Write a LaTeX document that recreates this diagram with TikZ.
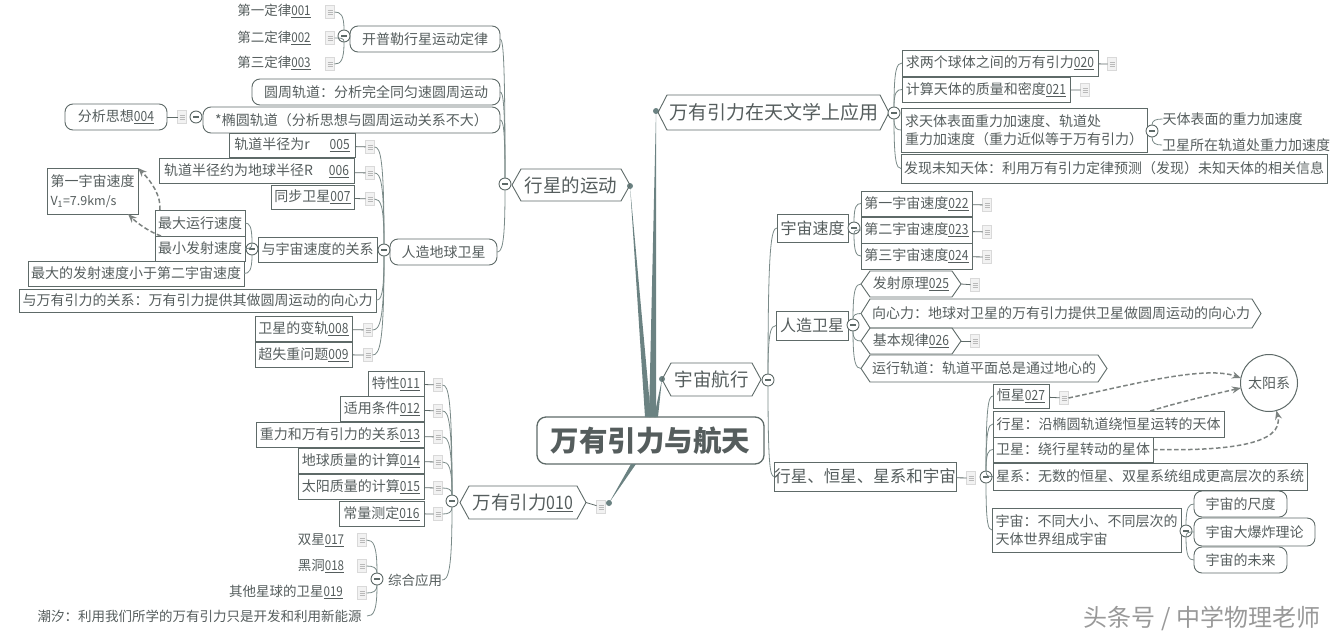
\documentclass[tikz,border=0pt]{standalone}
\usepackage{fontspec}
\usepackage{graphicx}
\setmainfont{Noto Sans CJK SC}
\usetikzlibrary{calc,arrows.meta}
\definecolor{ink}{HTML}{555D5D}
\definecolor{edge}{HTML}{5E6A68}
\definecolor{trunk}{HTML}{6B8282}
\definecolor{linkc}{HTML}{7A8A88}
\definecolor{dashc}{HTML}{7C8280}
\newcommand{\nm}[1]{\underline{\scalebox{.86}[1]{#1}}}
\newcommand{\bx}[7]{\node[#2,minimum width={(#5)-(#3)},minimum height={(#6)-(#4)}] (#1) at ({((#3)+(#5))/2},{((#4)+(#6))/2}) {#7};}
\newcommand{\hx}[7]{\node[#2,minimum width={(#5)-(#3)},minimum height={(#6)-(#4)}] (#1) at ({((#3)+(#5))/2},{((#4)+(#6))/2}) {#7};
 \draw[boxline] (#1.west) -- ([xshift=9pt]#1.north west) -- ([xshift=-9pt]#1.north east) -- (#1.east) -- ([xshift=-9pt]#1.south east) -- ([xshift=9pt]#1.south west) -- cycle;}
\newcommand{\lnk}[2]{\draw[link] (#1) .. controls ($(#1)!0.88!(#1|-#2)$) and ($(#1|-#2)!0.35!(#2)$) .. (#2);}
\newcommand{\mn}[3]{\node[minusc] (#1) at (#2,#3) {};}
\newcommand{\ic}[3]{\node[docicon] (#1) at (#2,#3) {};}
\tikzset{
  x=1pt,y=-1pt,
  every node/.style={text=ink,inner sep=0pt,outer sep=0pt,font=\fontsize{14}{18}\selectfont},
  boxline/.style={draw=edge,line width=.9pt},
  sq/.style={draw=edge,line width=.9pt},
  rnd/.style={draw=edge,line width=.9pt,rounded corners=8pt},
  bare/.style={},
  fa/.style={font=\fontsize{13.5}{18}\selectfont},
  fb/.style={font=\fontsize{16}{20}\selectfont},
  fc/.style={font=\fontsize{18.5}{22}\selectfont},
  fd/.style={font=\fontsize{19}{25}\selectfont},
  link/.style={draw=linkc,line width=.8pt},
  stub/.style={draw=edge,line width=.8pt},
  dasharrow/.style={draw=dashc,line width=1.5pt,dash pattern=on 4.5pt off 2.5pt,-{Stealth[length=9pt,width=7pt]}},
  minusc/.style={circle,draw=edge,line width=.9pt,fill=white,minimum size=12pt,
    path picture={\draw[edge,line width=1.2pt] ([xshift=-3pt]path picture bounding box.center) -- ([xshift=3pt]path picture bounding box.center);}},
  docicon/.style={rectangle,draw=gray!30,line width=.6pt,fill=gray!10,minimum width=9pt,minimum height=13pt,
    path picture={\draw[gray!55,line width=.5pt]
      ([xshift=-2.5pt,yshift=2pt]path picture bounding box.center) -- ([xshift=2.5pt,yshift=2pt]path picture bounding box.center)
      ([xshift=-2.5pt]path picture bounding box.center) -- ([xshift=2.5pt]path picture bounding box.center)
      ([xshift=-2.5pt,yshift=-2pt]path picture bounding box.center) -- ([xshift=2.5pt,yshift=-2pt]path picture bounding box.center);}},
  dotn/.style={circle,fill=trunk,minimum size=6pt},
}
\begin{document}
\begin{tikzpicture}
\useasboundingbox (0,0) rectangle (1337,640);
% root and main branches
\bx{root}{rnd,rounded corners=9pt,line width=1.3pt,font=\fontsize{28.5}{34}\bfseries\selectfont}{537}{417}{764}{464}{万有引力与航天}
\node[dotn] (d1) at (630,186) {};
\node[dotn] (d2) at (656,111) {};
\node[dotn] (d3) at (662,379) {};
\node[dotn] (d4) at (609,503) {};
\coordinate (r1a) at (645,417); \coordinate (r1b) at (651,417);
\coordinate (r2a) at (649,417); \coordinate (r2b) at (656,417);
\coordinate (r3a) at (654,417); \coordinate (r3b) at (658,417);
\coordinate (r4a) at (631,464); \coordinate (r4b) at (636,464);
\fill[trunk] (d1.center) -- (r1a) -- (r1b) -- cycle;
\fill[trunk] (d2.center) -- (r2a) -- (r2b) -- cycle;
\fill[trunk] (d3.center) -- (r3a) -- (r3b) -- cycle;
\fill[trunk] (d4.center) -- (r4a) -- (r4b) -- cycle;
% 行星的运动
\hx{xx}{fc}{512}{169}{630}{201}{行星的运动}
\mn{mxx}{505}{184}
\bx{kp}{rnd}{350}{26}{500}{52}{开普勒行星运动定律}
\mn{mkp}{344}{36}
\bx{d01}{fa,bare}{236}{2}{312}{20}{第一定律\nm{001}}
\bx{d02}{fa,bare}{236}{29}{312}{47}{第二定律\nm{002}}
\bx{d03}{fa,bare}{236}{54}{312}{72}{第三定律\nm{003}}
\ic{i01}{330}{12}\ic{i02}{330}{38}\ic{i03}{330}{64}
\lnk{mkp}{i01.east}\lnk{mkp}{i02.east}\lnk{mkp}{i03.east}
\bx{yz}{rnd}{252}{79}{500}{105}{圆周轨道：分析完全同匀速圆周运动}
\bx{ty}{rnd}{203}{107}{500}{133}{*椭圆轨道（分析思想与圆周运动关系不大）}
\mn{mty}{196}{117}
\ic{i04}{182}{117}
\bx{fx}{rnd}{65}{104}{167}{130}{分析思想\nm{004}}
\draw[stub] (fx) -- (i04);
\bx{b05}{sq}{229}{133}{355}{157}{轨道半径为r\hspace{20pt}\nm{005}}
\bx{b06}{sq}{159}{158}{354}{183}{轨道半径约为地球半径R\hspace{16pt}\nm{006}}
\bx{b07}{sq}{271}{185}{354}{209}{同步卫星\nm{007}}
\ic{i05}{370}{147}\ic{i06}{370}{173}\ic{i07}{370}{199}
\draw[stub] (b05) -- (i05); \draw[stub] (b06) -- (i06); \draw[stub] (b07) -- (i07);
\bx{yz1}{sq,align=left}{47}{168}{138}{214}{第一宇宙速度\\[1pt]{\fontsize{12.5}{14}\selectfont V\textsubscript{1}=7.9km/s}}
\bx{zd}{sq}{155}{210}{245}{236}{最大运行速度}
\bx{zx}{sq}{155}{236}{245}{261}{最小发射速度}
\bx{zf}{sq}{28}{261}{244}{286}{最大的发射速度小于第二宇宙速度}
\mn{myz}{252}{249}
\bx{yg}{sq}{258}{237}{377}{262}{与宇宙速度的关系}
\mn{mrz}{384}{250}
\bx{rz}{rnd}{390}{239}{497}{265}{人造地球卫星}
\bx{wg}{sq}{19}{289}{376}{312}{与万有引力的关系：万有引力提供其做圆周运动的向心力}
\bx{b08}{sq}{255}{316}{352}{341}{卫星的变轨\nm{008}}
\bx{b09}{sq}{255}{342}{352}{367}{超失重问题\nm{009}}
\ic{i08}{368}{330}\ic{i09}{368}{355}
\draw[stub] (b08) -- (i08); \draw[stub] (b09) -- (i09);
\lnk{mxx}{kp.east}\lnk{mxx}{yz.east}\lnk{mxx}{ty.east}\lnk{mxx}{rz.east}
\lnk{mrz}{i05.east}\lnk{mrz}{i06.east}\lnk{mrz}{i07.east}
\lnk{mrz}{wg.east}\lnk{mrz}{i08.east}\lnk{mrz}{i09.east}
\lnk{myz}{zd.east}\lnk{myz}{zx.east}\lnk{myz}{zf.east}
\draw[dasharrow] ([xshift=5pt]zd.north west) .. controls (161,196) and (152,182) .. (yz1.north east);
\draw[dasharrow] ([xshift=6pt]zx.north west) .. controls (150,232) and (138,224) .. ($(yz1.south west)!0.89!(yz1.south east)$);
% 万有引力
\hx{wy}{fc}{460}{486}{586}{519}{万有引力\nm{010}}
\mn{mwy}{452}{501}
\ic{i10}{601}{507}
\draw[stub] (wy.east) -- (i10);
\bx{b11}{sq}{368}{371}{424}{396}{特性\nm{011}}
\bx{b12}{sq}{340}{396}{424}{421}{适用条件\nm{012}}
\bx{b13}{sq}{256}{422}{424}{447}{重力和万有引力的关系\nm{013}}
\bx{b14}{sq}{298}{448}{424}{473}{地球质量的计算\nm{014}}
\bx{b15}{sq}{298}{474}{424}{499}{太阳质量的计算\nm{015}}
\bx{b16}{sq}{339}{501}{424}{526}{常量测定\nm{016}}
\ic{i11}{438}{385}\ic{i12}{438}{411}\ic{i13}{438}{437}\ic{i14}{438}{462}\ic{i15}{438}{488}\ic{i16}{438}{514}
\draw[stub] (b11) -- (i11); \draw[stub] (b12) -- (i12); \draw[stub] (b13) -- (i13);
\draw[stub] (b14) -- (i14); \draw[stub] (b15) -- (i15); \draw[stub] (b16) -- (i16);
\lnk{mwy}{i11.east}\lnk{mwy}{i12.east}\lnk{mwy}{i13.east}\lnk{mwy}{i14.east}\lnk{mwy}{i15.east}\lnk{mwy}{i16.east}
\bx{zh}{fa,bare}{388}{571}{442}{589}{综合应用}
\lnk{mwy}{zh.east}
\mn{mzh}{377}{579}
\bx{b17}{fa,bare}{297}{531}{345}{549}{双星\nm{017}}
\bx{b18}{fa,bare}{297}{557}{345}{575}{黑洞\nm{018}}
\bx{b19}{fa,bare}{227}{583}{345}{601}{其他星球的卫星\nm{019}}
\bx{cx}{fa,bare}{32}{607}{367}{625}{潮汐：利用我们所学的万有引力只是开发和利用新能源}
\ic{i17}{362}{540}\ic{i18}{362}{566}\ic{i19}{362}{593}
\lnk{mzh}{i17.east}\lnk{mzh}{i18.east}\lnk{mzh}{i19.east}\lnk{mzh}{cx.east}
% 万有引力在天文学上应用
\hx{tw}{fd}{658}{95}{889}{130}{万有引力在天文学上应用}
\mn{mtw}{894}{113}
\bx{b20}{sq}{902}{50}{1098}{76}{求两个球体之间的万有引力\nm{020}}
\bx{b21}{sq}{902}{77}{1070}{102}{计算天体的质量和密度\nm{021}}
\ic{i20}{1112}{64}\ic{i21}{1085}{90}
\draw[stub] (b20) -- (i20); \draw[stub] (b21) -- (i21);
\bx{qt}{sq,align=left}{901}{108}{1147}{152}{求天体表面重力加速度、轨道处\\重力加速度（重力近似等于万有引力）}
\mn{mqt}{1152}{131}
\bx{tb}{bare}{1163}{110}{1302}{128}{天体表面的重力加速度}
\bx{wx}{bare}{1163}{136}{1329}{154}{卫星所在轨道处重力加速度}
\lnk{mqt}{tb.west}\lnk{mqt}{wx.west}
\bx{fw}{sq}{901}{154}{1327}{183}{发现未知天体：利用万有引力定律预测（发现）未知天体的相关信息}
\lnk{mtw}{b20.west}\lnk{mtw}{b21.west}\lnk{mtw}{qt.west}\lnk{mtw}{fw.west}
% 宇宙航行
\hx{hx}{fc}{662}{363}{761}{396}{宇宙航行}
\mn{mhx}{768}{380}
\bx{sd}{sq,fb}{777}{214}{848}{242}{宇宙速度}
\mn{msd}{854}{228}
\bx{b22}{sq}{861}{191}{972}{216}{第一宇宙速度\nm{022}}
\bx{b23}{sq}{861}{217}{972}{243}{第二宇宙速度\nm{023}}
\bx{b24}{sq}{861}{243}{972}{269}{第三宇宙速度\nm{024}}
\ic{i22}{987}{205}\ic{i23}{987}{232}\ic{i24}{987}{257}
\draw[stub] (b22) -- (i22); \draw[stub] (b23) -- (i23); \draw[stub] (b24) -- (i24);
\lnk{msd}{b22.west}\lnk{msd}{b23.west}\lnk{msd}{b24.west}
\bx{rw}{sq,fb}{776}{311}{848}{340}{人造卫星}
\mn{mrw}{853}{325}
\hx{b25}{bare}{861}{271}{961}{297}{发射原理\nm{025}}
\hx{xl}{bare}{861}{299}{1261}{328}{向心力：地球对卫星的万有引力提供卫星做圆周运动的向心力}
\hx{b26}{bare}{861}{328}{961}{354}{基本规律\nm{026}}
\hx{yx}{bare}{861}{355}{1107}{382}{运行轨道：轨道平面总是通过地心的}
\ic{i25}{975}{285}\ic{i26}{975}{341}
\draw[stub] (b25.east) -- (i25); \draw[stub] (b26.east) -- (i26);
\lnk{mrw}{b25.west}\lnk{mrw}{xl.west}\lnk{mrw}{b26.west}\lnk{mrw}{yx.west}
\bx{xh}{sq,font=\fontsize{16.5}{20}\selectfont}{774}{462}{956}{491}{行星、恒星、星系和宇宙}
\ic{i28}{971}{478}
\draw[stub] (xh) -- (i28);
\mn{mxh}{986}{477}
\lnk{mhx}{sd.west}\lnk{mhx}{rw.west}\lnk{mhx}{xh.west}
\bx{b27}{sq}{993}{384}{1049}{408}{恒星\nm{027}}
\ic{i27}{1064}{398}
\draw[stub] (b27) -- (i27);
\bx{xing}{sq}{993}{411}{1224}{437}{行星：沿椭圆轨道绕恒星运转的天体}
\bx{wei}{sq}{993}{437}{1153}{462}{卫星：绕行星转动的星体}
\bx{xi}{sq}{993}{463}{1307}{490}{星系：无数的恒星、双星系统组成更高层次的系统}
\bx{yu}{sq,align=left}{992}{508}{1181}{552}{宇宙：不同大小、不同层次的\\天体世界组成宇宙}
\lnk{mxh}{b27.west}\lnk{mxh}{xing.west}\lnk{mxh}{wei.west}\lnk{mxh}{xi.west}\lnk{mxh}{yu.west}
\mn{myu}{1186}{531}
\bx{c1}{rnd}{1194}{491}{1287}{517}{宇宙的尺度}
\bx{c2}{rnd}{1194}{518}{1315}{546}{宇宙大爆炸理论}
\bx{c3}{rnd}{1194}{547}{1287}{573}{宇宙的未来}
\lnk{myu}{c1.west}\lnk{myu}{c2.west}\lnk{myu}{c3.west}
\node[draw=edge,line width=1pt,circle,minimum size=57pt] (sun) at (1269,383) {太阳系};
\draw[dasharrow] (i27.east) .. controls (1130,385) and (1205,365) .. (sun.170);
\draw[dasharrow] ($(xing.north west)!0.68!(xing.north east)$) .. controls (1180,402) and (1210,395) .. (sun.190);
\draw[dasharrow] (wei.east) .. controls (1225,451) and (1285,445) .. (sun.285);
\node[font=\fontsize{24}{28}\selectfont,text=gray!80] (wm) at (1202,618) {头条号 / 中学物理老师};
\end{tikzpicture}
\end{document}
